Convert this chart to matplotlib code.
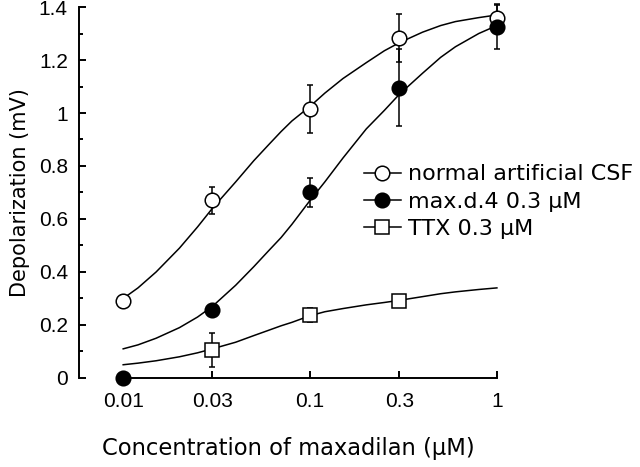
#!/usr/bin/env python3

import matplotlib
matplotlib.use('Agg')
import matplotlib.pyplot as plt
from matplotlib.ticker import FixedLocator

plt.rcParams['font.family'] = ['Liberation Sans', 'DejaVu Sans']

# measured points
conc_normal = [0.01, 0.03, 0.1, 0.3, 1]
resp_normal = [0.29, 0.67, 1.015, 1.283, 1.358]
err_normal = [0.025, 0.05, 0.09, 0.09, 0.05]

conc_maxd4 = [0.01, 0.03, 0.1, 0.3, 1]
resp_maxd4 = [0.0, 0.255, 0.70, 1.095, 1.325]
err_maxd4 = [0.0, 0.02, 0.055, 0.145, 0.085]

conc_ttx = [0.03, 0.1, 0.3]
resp_ttx = [0.106, 0.238, 0.292]
err_ttx = [0.064, 0.025, 0.01]

# fitted curves
curve_x = [0.01, 0.012, 0.015, 0.02, 0.025, 0.03, 0.04, 0.05, 0.06, 0.07, 0.08,
           0.1, 0.12, 0.15, 0.2, 0.25, 0.3, 0.4, 0.5, 0.6, 0.8, 1]
curve_normal = [0.30, 0.34, 0.40, 0.49, 0.57, 0.64, 0.74, 0.82, 0.88, 0.93, 0.97,
                1.025, 1.075, 1.13, 1.19, 1.235, 1.265, 1.305, 1.33, 1.345, 1.36, 1.37]
curve_maxd4 = [0.11, 0.125, 0.15, 0.19, 0.23, 0.27, 0.35, 0.42, 0.48, 0.53, 0.58,
               0.67, 0.74, 0.83, 0.94, 1.01, 1.07, 1.15, 1.21, 1.25, 1.30, 1.33]
curve_ttx = [0.05, 0.056, 0.065, 0.08, 0.095, 0.11, 0.135, 0.16, 0.18, 0.197, 0.21,
             0.235, 0.25, 0.262, 0.276, 0.285, 0.293, 0.307, 0.318, 0.325, 0.334, 0.34]

tick_vals = [0.01, 0.03, 0.1, 0.3, 1]
tick_labels = ['0.01', '0.03', '0.1', '0.3', '1']
ytick_vals = [0, 0.2, 0.4, 0.6, 0.8, 1.0, 1.2, 1.4]
ytick_labels = ['0', '0.2', '0.4', '0.6', '0.8', '1', '1.2', '1.4']
ytick_minor = [0.1, 0.3, 0.5, 0.7, 0.9, 1.1, 1.3]

labels = ['normal artificial CSF', 'max.d.4 0.3 μM', 'TTX 0.3 μM']


def main():
    fig = plt.figure(figsize=(6.4, 4.67), dpi=100)
    ax = fig.add_axes([0.1234, 0.1906, 0.653, 0.7944])

    lw = 1.1
    # curves
    for ys in (curve_normal, curve_maxd4, curve_ttx):
        ax.plot(curve_x, ys, color='black', lw=lw, zorder=2, clip_on=False)

    # points with error bars
    sets = [
        (conc_normal, resp_normal, err_normal, 'o', 'white'),
        (conc_maxd4, resp_maxd4, err_maxd4, 'o', 'black'),
        (conc_ttx, resp_ttx, err_ttx, 's', 'white'),
    ]
    handles = []
    for xs, ys, es, mk, fc in sets:
        ax.errorbar(xs, ys, yerr=es, fmt='none', ecolor='black', elinewidth=lw,
                    capsize=2.5, capthick=lw, zorder=3, clip_on=False)
        ax.plot(xs, ys, lw=0, marker=mk, ms=10.5, mfc=fc, mec='black',
                mew=1.1, zorder=4, clip_on=False)
        handles.append(ax.plot([], [], ls='-', lw=lw, color='black', marker=mk, ms=10.5,
                               mfc=fc, mec='black', mew=1.1)[0])

    ax.set_xscale('log')
    ax.set_xlim(0.0058, 1.0)
    ax.set_ylim(0, 1.4)

    ax.xaxis.set_major_locator(FixedLocator(tick_vals))
    ax.xaxis.set_minor_locator(FixedLocator([]))
    ax.set_xticklabels(tick_labels)
    ax.yaxis.set_major_locator(FixedLocator(ytick_vals))
    ax.yaxis.set_minor_locator(FixedLocator(ytick_minor))
    ax.set_yticklabels(ytick_labels)

    for side in ['top', 'right']:
        ax.spines[side].set_visible(False)
    ax.spines['left'].set_linewidth(1.4)
    ax.spines['bottom'].set_linewidth(1.4)
    ax.spines['bottom'].set_bounds(0.01, 1)
    ax.spines['left'].set_bounds(0, 1.4)

    ax.tick_params(axis='both', which='major', direction='in', length=5, width=1.4,
                   labelsize=15, pad=8)
    ax.tick_params(axis='x', which='major', pad=10)
    ax.tick_params(axis='y', which='minor', direction='in', length=3, width=1.4)

    wide = ['DejaVu Sans']
    ax.set_ylabel('Depolarization (mV)', fontsize=15, family=wide, labelpad=6)
    ax.set_xlabel('Concentration of maxadilan (μM)', fontsize=16.3, family=wide,
                  labelpad=19)

    fig.legend(handles, labels, loc='upper left', bbox_to_anchor=(0.568, 0.648),
               bbox_transform=fig.transFigure, frameon=False,
               prop={'family': wide, 'size': 16},
               handlelength=1.7, handletextpad=0.3, labelspacing=0.33,
               borderaxespad=0, borderpad=0)

    fig.savefig('out.png', dpi=100)


if __name__ == "__main__":
    main()
